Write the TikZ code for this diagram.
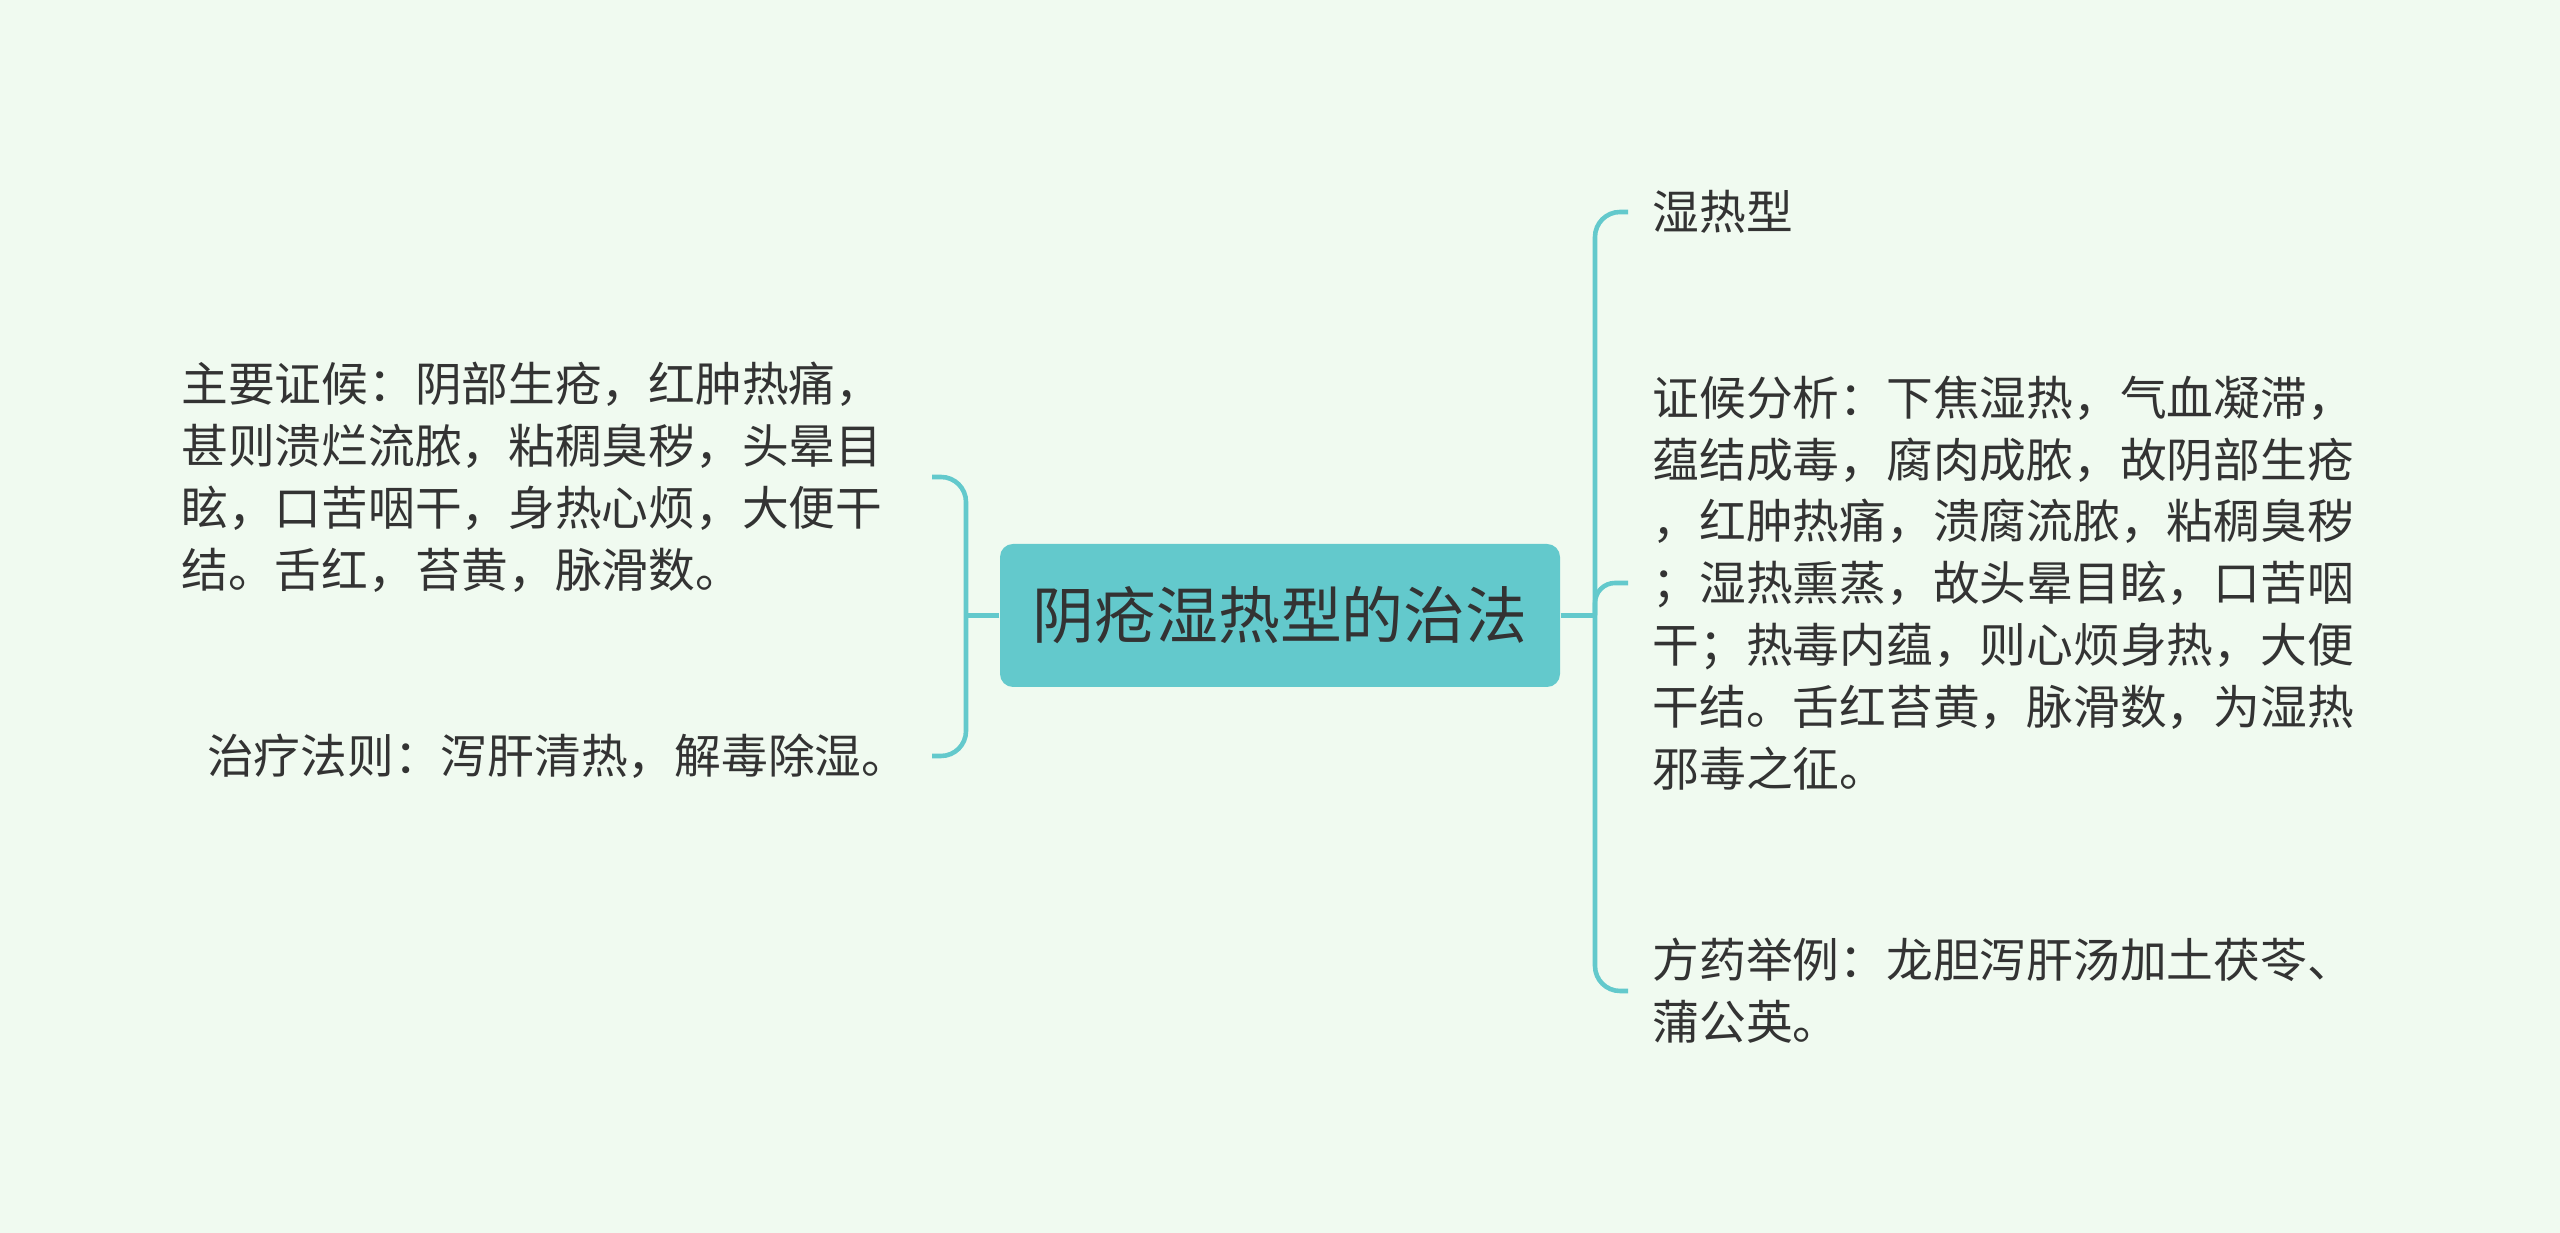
\documentclass[tikz,border=0pt]{standalone}
\usepackage{fontspec}
\newfontfamily\cjk{Noto Sans CJK SC}
\usetikzlibrary{calc, backgrounds}
\definecolor{mintbg}{RGB}{240,250,240}
\definecolor{tealcol}{RGB}{99,201,204}
\definecolor{textcol}{RGB}{51,51,51}

\begin{document}
\begin{tikzpicture}[
    background rectangle/.style={fill=mintbg},
    show background rectangle,
    inner frame sep=0pt,
    branch/.style={draw=tealcol, line width=1.3pt, rounded corners=0.25cm},
    leaf/.style={text=textcol, inner sep=0pt, align=left,
        font=\cjk\fontsize{13.3pt}{17.6pt}\selectfont},
    rootbox/.style={fill=tealcol, rounded corners=0.13cm, text=textcol,
        minimum width=5.6cm, minimum height=1.43cm, inner sep=0pt,
        font=\cjk\fontsize{17.6pt}{20pt}\selectfont},
]

\path[use as bounding box] (0,0) rectangle (25.6,12.33);

% ════════════════════════════════════════════════════════
% 0. CENTRE
% ════════════════════════════════════════════════════════
\node[rootbox] (root) at (12.80, 6.175) {阴疮湿热型的治法};

% ════════════════════════════════════════════════════════
% 1. LEFT BRANCH
% ════════════════════════════════════════════════════════
\node[leaf, text width=7.27cm, anchor=east] (zhenghou) at (9.09, 7.56)
    {主要证候：阴部生疮，红肿热痛，\\
     甚则溃烂流脓，粘稠臭秽，头晕目\\
     眩，口苦咽干，身热心烦，大便干\\
     结。舌红，苔黄，脉滑数。};
\node[leaf, anchor=east] (zhifa) at (9.09, 4.77)
    {治疗法则：泻肝清热，解毒除湿。};

\coordinate (lhub) at (9.66, 6.175);
\draw[branch] (root.west) -- (lhub);
\draw[branch] ($(zhenghou.east)+(0.23,0)$) -| (lhub)
    |- ($(zhifa.east)+(0.23,0)$);

% ════════════════════════════════════════════════════════
% 2. RIGHT BRANCH
% ════════════════════════════════════════════════════════
\node[leaf, anchor=west] (leixing) at (16.52, 10.21) {湿热型};
\node[leaf, anchor=west] (fenxi) at (16.52, 6.50)
    {证候分析：下焦湿热，气血凝滞，\\
     蕴结成毒，腐肉成脓，故阴部生疮\\
     ，红肿热痛，溃腐流脓，粘稠臭秽\\
     ；湿热熏蒸，故头晕目眩，口苦咽\\
     干；热毒内蕴，则心烦身热，大便\\
     干结。舌红苔黄，脉滑数，为湿热\\
     邪毒之征。};
\node[leaf, anchor=west] (fangyao) at (16.52, 2.42)
    {方药举例：龙胆泻肝汤加土茯苓、\\
     蒲公英。};

\coordinate (rhub) at (15.95, 6.175);
\draw[branch] (root.east) -- (rhub);
\draw[branch] ($(leixing.west)+(-0.24,0)$) -| (rhub)
    |- ($(fangyao.west)+(-0.24,0)$);
\draw[branch, rounded corners=0.2cm] (rhub) |- ($(fenxi.west)+(-0.24,0)$);

\end{tikzpicture}
\end{document}
